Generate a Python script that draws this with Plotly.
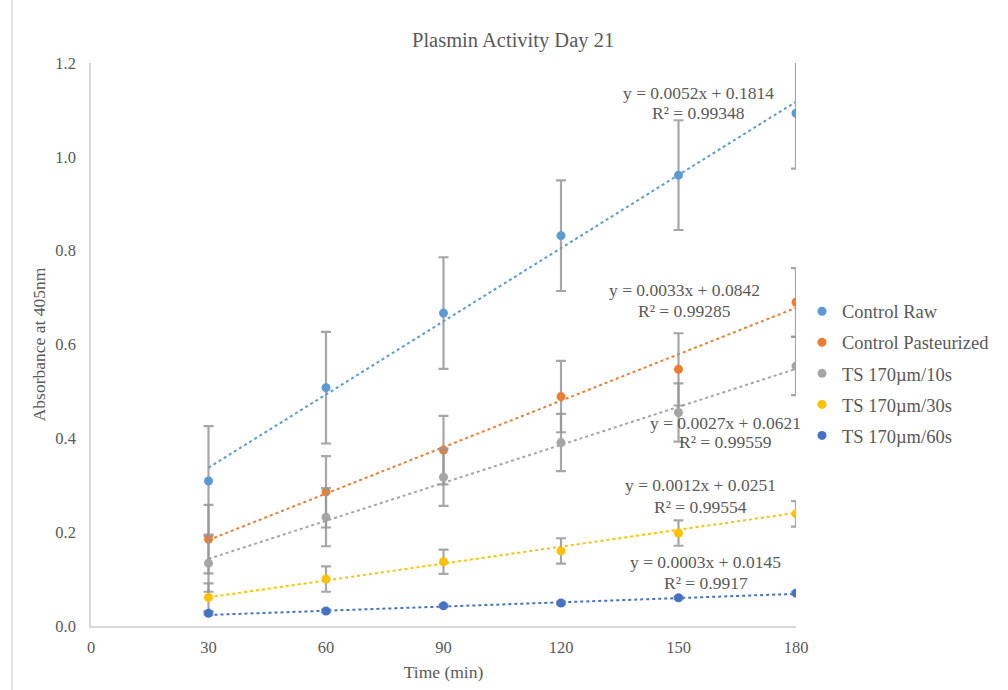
import plotly.graph_objects as go

# Sampling times (min)
time_min = [30, 60, 90, 120, 150, 180]

# Series names and colours
series_names = ["Control Raw", "Control Pasteurized", "TS 170µm/10s", "TS 170µm/30s", "TS 170µm/60s"]
series_colors = ["#5B9BD5", "#ED7D31", "#A5A5A5", "#FFC000", "#4472C4"]

# Mean absorbance at 405 nm
control_raw = [0.309, 0.508, 0.667, 0.832, 0.961, 1.093]
control_past = [0.185, 0.286, 0.375, 0.489, 0.547, 0.690]
ts_10s = [0.134, 0.232, 0.317, 0.391, 0.455, 0.554]
ts_30s = [0.061, 0.100, 0.137, 0.160, 0.198, 0.239]
ts_60s = [0.027, 0.032, 0.043, 0.049, 0.060, 0.070]

# Standard deviations
err_raw = [0.117, 0.119, 0.119, 0.118, 0.117, 0.118]
err_past = [0.073, 0.076, 0.073, 0.076, 0.077, 0.073]
err_10s = [0.061, 0.062, 0.061, 0.061, 0.062, 0.062]
err_30s = [0.030, 0.027, 0.026, 0.027, 0.027, 0.027]
err_60s = [0.003, 0.003, 0.003, 0.003, 0.003, 0.003]

# Linear trendline fits
slopes = [0.0052, 0.0033, 0.0027, 0.0012, 0.0003]
intercepts = [0.1814, 0.0842, 0.0621, 0.0251, 0.0145]
r_squared = ["0.99348", "0.99285", "0.99559", "0.99554", "0.9917"]

# Where each fit equation is written (data units): centre x, equation line y, R² line y
label_x = [155.0, 151.6, 162.1, 155.6, 156.9]
label_y_eq = [1.137, 0.716, 0.433, 0.301, 0.137]
label_y_r2 = [1.093, 0.672, 0.393, 0.253, 0.092]

means = [control_raw, control_past, ts_10s, ts_30s, ts_60s]
errors = [err_raw, err_past, err_10s, err_30s, err_60s]

TEXT = "#595959"
FONT = "Liberation Serif, Times New Roman, serif"

fig = go.Figure()

# Dotted linear trendlines across the measured range
for name, color, m, b in zip(series_names, series_colors, slopes, intercepts):
    xs = [time_min[0], time_min[-1]]
    fig.add_trace(go.Scatter(
        x=xs, y=[m * x + b for x in xs], mode="lines",
        line=dict(color=color, width=2, dash="dot"),
        showlegend=False, hoverinfo="skip",
    ))

# Mean points with error bars
for i, (name, color, y, e) in enumerate(zip(series_names, series_colors, means, errors)):
    fig.add_trace(go.Scatter(
        x=time_min, y=y, mode="markers", name=name,
        legendgroup=f"g{i}",
        marker=dict(color=color, size=9),
        error_y=dict(type="data", array=e, visible=True,
                     color="rgba(150,150,150,0.85)", thickness=2.2, width=5),
    ))

# Fit equations and R² values
for m, b, r2, lx, ly1, ly2 in zip(slopes, intercepts, r_squared, label_x, label_y_eq, label_y_r2):
    fig.add_annotation(
        x=lx, y=ly1, xref="x", yref="y", showarrow=False,
        text=f"y = {m:.4f}x + {b:.4f}",
        font=dict(family=FONT, size=17.5, color=TEXT),
    )
    fig.add_annotation(
        x=lx, y=ly2, xref="x", yref="y", showarrow=False,
        text=f"R² = {r2}",
        font=dict(family=FONT, size=17.5, color=TEXT),
    )

# Outer chart frame edge on the left
fig.add_shape(type="line", xref="paper", yref="paper",
              x0=-0.112, x1=-0.112, y0=-0.15, y1=1.15,
              line=dict(color="#d9d9d9", width=1.5))

fig.update_layout(
    width=1008, height=690,
    margin=dict(l=91, r=212, t=63, b=64),
    paper_bgcolor="white", plot_bgcolor="white",
    font=dict(family=FONT, color=TEXT, size=16),
    title=dict(text="Plasmin Activity Day 21", x=0.509, xanchor="center",
               y=0.942, yanchor="middle",
               font=dict(family=FONT, size=20.5, color=TEXT)),
    showlegend=True,
    legend=dict(x=1.0085, y=0.592, xanchor="left", yanchor="top",
                font=dict(family=FONT, size=18.5, color=TEXT),
                tracegroupgap=4, itemwidth=30,
                bgcolor="rgba(0,0,0,0)"),
    xaxis=dict(range=[0, 180], tickvals=[0, 30, 60, 90, 120, 150, 180],
               automargin=False,
               showgrid=False, zeroline=False, showline=True,
               linecolor="#d9d9d9", linewidth=1.5, ticks="",
               ticklabelstandoff=5,
               tickfont=dict(family=FONT, size=16.5, color=TEXT),
               title=dict(text="Time (min)", standoff=10,
                          font=dict(family=FONT, size=17.5, color=TEXT))),
    yaxis=dict(range=[0, 1.2], dtick=0.2, tickformat=".1f",
               automargin=False,
               showgrid=False, zeroline=False, showline=True,
               linecolor="#d9d9d9", linewidth=1.5, ticks="",
               ticklabelstandoff=10,
               tickfont=dict(family=FONT, size=16.5, color=TEXT),
               title=dict(text="Absorbance at 405nm", standoff=5,
                          font=dict(family=FONT, size=17.5, color=TEXT))),
)

fig.write_html("out.html")
